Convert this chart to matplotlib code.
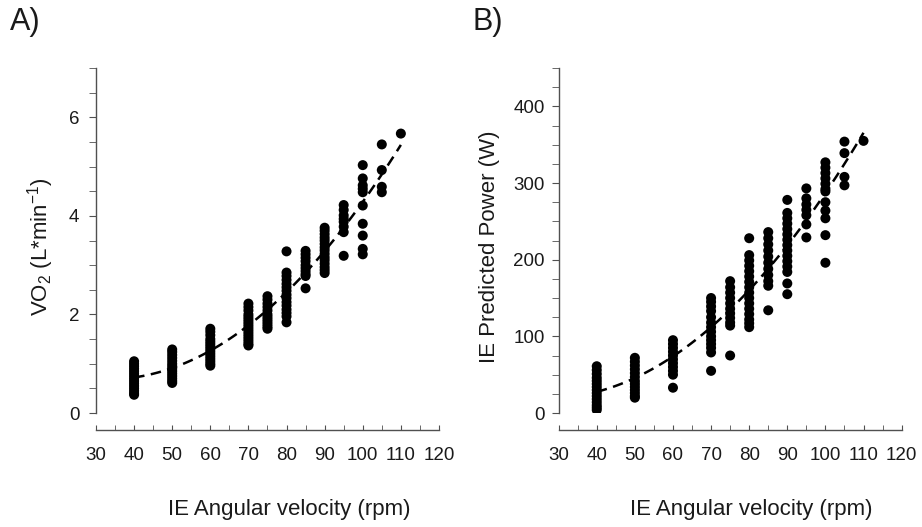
import numpy as np
import matplotlib
matplotlib.use("Agg")
import matplotlib.pyplot as plt
from matplotlib.ticker import MultipleLocator

plt.rcParams['font.family'] = ['Liberation Sans', 'DejaVu Sans']
plt.rcParams['mathtext.fontset'] = 'custom'
plt.rcParams['mathtext.rm'] = 'Liberation Sans'
plt.rcParams['mathtext.it'] = 'Liberation Sans:italic'

# Angular velocity groups (rpm)
speeds = [40, 50, 60, 70, 75, 80, 85, 90, 95, 100, 105, 110]

# Panel A: VO2 (L/min) per speed group
vo2 = [
    [1.05, 1.0, 0.95, 0.9, 0.85, 0.8, 0.75, 0.7, 0.65, 0.6, 0.55, 0.5, 0.45, 0.4, 0.37],
    [1.29, 1.24, 1.18, 1.12, 1.06, 1.0, 0.95, 0.9, 0.85, 0.8, 0.75, 0.7, 0.65, 0.61],
    [1.71, 1.65, 1.58, 1.5, 1.45, 1.4, 1.35, 1.3, 1.25, 1.2, 1.15, 1.1, 1.05, 1.0, 0.96],
    [2.22, 2.15, 2.08, 2.0, 1.95, 1.9, 1.85, 1.8, 1.75, 1.7, 1.65, 1.6, 1.55, 1.5, 1.45, 1.4, 1.37],
    [2.37, 2.3, 2.22, 2.15, 2.08, 2.0, 1.95, 1.9, 1.85, 1.8, 1.75, 1.71],
    [3.28, 2.85, 2.78, 2.7, 2.62, 2.55, 2.48, 2.4, 2.33, 2.25, 2.18, 2.1, 2.03, 1.96, 1.84],
    [3.29, 3.22, 3.15, 3.08, 3.0, 2.94, 2.88, 2.82, 2.78, 2.53],
    [3.76, 3.7, 3.63, 3.56, 3.5, 3.43, 3.36, 3.3, 3.23, 3.16, 3.1, 3.03, 2.96, 2.9, 2.84],
    [4.22, 4.12, 4.01, 3.94, 3.88, 3.78, 3.67, 3.19],
    [5.03, 4.76, 4.62, 4.55, 4.48, 4.21, 3.84, 3.6, 3.33, 3.22],
    [5.45, 4.93, 4.59, 4.48],
    [5.67],
]

# Panel B: IE predicted power (W) per speed group
power = [
    [61, 56, 51, 46, 42, 38, 34, 30, 26, 22, 18, 14, 10, 7, 4],
    [72, 67, 62, 57, 52, 47, 42, 38, 34, 30, 26, 22, 20],
    [95, 90, 85, 80, 75, 70, 65, 60, 55, 50, 33],
    [150, 145, 139, 133, 125, 118, 112, 106, 100, 95, 90, 85, 79, 55],
    [172, 164, 157, 150, 143, 136, 130, 124, 118, 114, 75],
    [228, 206, 199, 192, 185, 178, 171, 164, 157, 150, 143, 136, 129, 122, 117, 112],
    [236, 228, 220, 212, 204, 196, 188, 180, 172, 166, 134],
    [278, 261, 254, 247, 240, 233, 226, 219, 212, 205, 198, 191, 184, 169, 155],
    [293, 280, 272, 265, 258, 246, 229],
    [327, 320, 313, 306, 299, 292, 289, 275, 264, 254, 232, 196],
    [354, 339, 308, 297],
    [355],
]

AX_COLOR = '#505050'
TXT_COLOR = '#1a1a1a'


def flatten(groups):
    xs, ys = [], []
    for s, vals in zip(speeds, groups):
        xs += [s] * len(vals)
        ys += vals
    return np.array(xs, float), np.array(ys, float)


def draw_panel(ax, groups, ylim, ymajor, yminor, ylabel, ylabel_x, ypad):
    x, y = flatten(groups)
    ax.scatter(x, y, s=52, color='black', edgecolors='none', zorder=3)

    # quadratic regression line
    coef = np.polyfit(x, y, 2)
    xf = np.linspace(40, 110, 100)
    ax.plot(xf, np.polyval(coef, xf), color='black', lw=1.8,
            linestyle=(0, (4.2, 2.6)), zorder=4)

    ax.set_xlim(30, 120)
    ax.set_ylim(*ylim)
    for side in ('top', 'right'):
        ax.spines[side].set_visible(False)
    ax.spines['bottom'].set_position(('outward', 12.2))
    for side in ('left', 'bottom'):
        ax.spines[side].set_color(AX_COLOR)
        ax.spines[side].set_linewidth(1.0)

    ax.xaxis.set_major_locator(MultipleLocator(10))
    ax.xaxis.set_minor_locator(MultipleLocator(5))
    ax.yaxis.set_major_locator(MultipleLocator(ymajor))
    ax.yaxis.set_minor_locator(MultipleLocator(yminor))
    ax.tick_params(axis='x', which='both', direction='in', length=3.5,
                   color=AX_COLOR, labelsize=13.5, pad=12, labelcolor=TXT_COLOR)
    ax.tick_params(axis='y', which='both', direction='out', length=5,
                   color=AX_COLOR, labelsize=13.5, pad=ypad, labelcolor=TXT_COLOR)

    ax.set_xlabel('IE Angular velocity (rpm)', fontsize=16, color=TXT_COLOR)
    ax.xaxis.label.set_va('center')
    ax.xaxis.set_label_coords(0.563, -0.281)
    ax.set_ylabel(ylabel, fontsize=16, color=TXT_COLOR)
    ax.yaxis.label.set_va('center')
    ax.yaxis.set_label_coords(ylabel_x, 0.481)


fig = plt.figure(figsize=(9.22, 5.27), dpi=100)
ax_a = fig.add_axes([0.1041, 0.2163, 0.372, 0.6546])
ax_b = fig.add_axes([0.6059, 0.2163, 0.372, 0.6546])

draw_panel(ax_a, vo2, (0, 7), 2, 0.5, r'VO$_2$ (L*min$^{-1}$)', -0.163, 7)
draw_panel(ax_b, power, (0, 450), 100, 25, 'IE Predicted Power (W)', -0.203, 5)

fig.text(10 / 922, 0.958, 'A)', fontsize=22, ha='left', va='center', color=TXT_COLOR)
fig.text(472 / 922, 0.958, 'B)', fontsize=22, ha='left', va='center', color=TXT_COLOR)

fig.savefig('out.png', dpi=100)
